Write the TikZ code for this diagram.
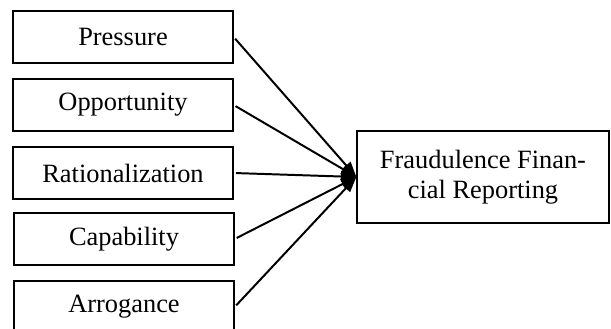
\documentclass[tikz,border=0pt]{standalone}
\usepackage{fontspec}
\setmainfont{Liberation Serif}
\usetikzlibrary{arrows.meta}

\begin{document}
\begin{tikzpicture}[x=0.4545pt,y=-0.4545pt,
		factor/.style={draw=black,line width=0.6pt,minimum width=100pt,minimum height=23.6pt,inner sep=0pt,font=\fontsize{12}{13.8}\selectfont},
		result/.style={draw=black,line width=0.6pt,minimum width=114.5pt,minimum height=41.8pt,align=center,inner sep=0pt,font=\fontsize{12}{13.8}\selectfont},
		link/.style={line width=0.9pt,-{Triangle[length=7pt,width=5pt]},shorten <=1pt}]
				\clip (0,0) rectangle (611,329);
				\node [factor] (pres) at (123,37) {Pressure};
				\node [factor] (opp) at (123,105) {Opportunity};
				\node [factor] (rat) at (123,173) {Rationalization};
				\node [factor] (cap) at (124,239) {Capability};
				\node [factor] (arr) at (124,307) {Arrogance};
				\node [result] (frf) at (483,177) {Fraudulence Finan-\\cial Reporting};
				\draw [link] (pres.east) -- (frf.west);
				\draw [link] (opp.east) -- (frf.west);
				\draw [link] (rat.east) -- (frf.west);
				\draw [link] (cap.east) -- (frf.west);
				\draw [link] (arr.east) -- (frf.west);
\end{tikzpicture}
\end{document}
